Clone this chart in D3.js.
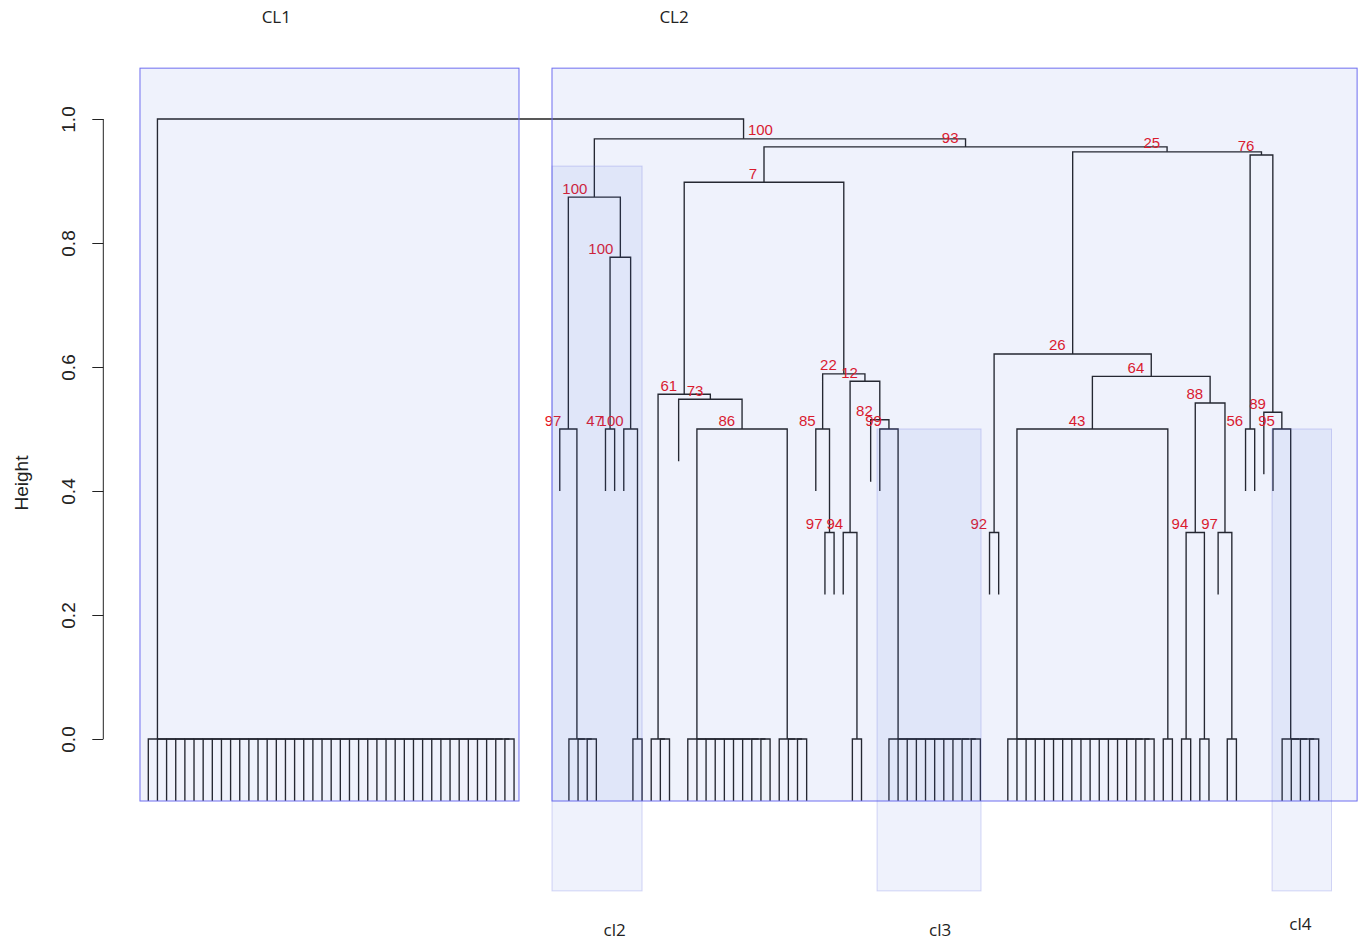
<!DOCTYPE html>
<html>
<head>
<meta charset="utf-8">
<script src="https://cdn.jsdelivr.net/npm/d3@7"></script>
<style>
  body { margin: 0; background: #fff; }
  svg { display: block; }
</style>
</head>
<body>
<svg id="dend" width="1359" height="940"></svg>
<script>
// ---- data ----
// leaf "L" hangs below its merge; {rake: k} = k leaves joined at height 0
const hang = 0.1;
const gapSlots = 4;          // empty leaf slots between CL1 and CL2
const rootJoinSlot = 65.1;   // where the root link drops onto CL2

const cl2Tree = { h: 0.874, bs: 100, kids: [
  { h: 0.5, bs: 97, kids: ["L", { rake: 4 }] },
  { h: 0.777, bs: 100, kids: [
    { h: 0.5, bs: 47, kids: ["L", "L"] },
    { h: 0.5, bs: 100, kids: ["L", { rake: 2 }] }
  ]}
]};

const node7Tree = { h: 0.898, bs: 7, kids: [
  { h: 0.556, bs: 61, kids: [{ rake: 3 },
    { h: 0.548, bs: 73, kids: ["L",
      { h: 0.5, bs: 86, kids: [{ rake: 10 }, { rake: 4 }] }
    ]}
  ]},
  { h: 0.589, bs: 22, kids: [
    { h: 0.5, bs: 85, kids: ["L", { h: 0.333, bs: 97, kids: ["L", "L"] }] },
    { h: 0.577, bs: 12, kids: [
      { h: 0.333, bs: 94, kids: ["L", { rake: 2 }] },
      { h: 0.515, bs: 82, kids: ["L",
        { h: 0.5, bs: 99, kids: ["L", { rake: 11 }] }
      ]}
    ]}
  ]}
]};

const node26Tree = { h: 0.621, bs: 26, kids: [
  { h: 0.333, bs: 92, kids: ["L", "L"] },
  { h: 0.585, bs: 64, kids: [
    { h: 0.5, bs: 43, kids: [{ rake: 17 }, { rake: 2 }] },
    { h: 0.542, bs: 88, kids: [
      { h: 0.333, bs: 94, kids: [{ rake: 2 }, { rake: 2 }] },
      { h: 0.333, bs: 97, kids: ["L", { rake: 2 }] }
    ]}
  ]}
]};

const node76Tree = { h: 0.942, bs: 76, kids: [
  { h: 0.5, bs: 56, kids: ["L", "L"] },
  { h: 0.527, bs: 89, kids: ["L",
    { h: 0.5, bs: 95, kids: ["L", { rake: 5 }] }
  ]}
]};

const treeRoot = { h: 1.0, kids: [
  { rake: 41 },
  { h: 0.968, bs: 100, kids: [
    cl2Tree,
    { h: 0.955, bs: 93, kids: [
      node7Tree,
      { h: 0.947, bs: 25, kids: [node26Tree, node76Tree] }
    ]}
  ]}
]};

// cluster boxes, in leaf slots and heights
const boxNames   = ["CL1", "CL2", "cl2", "cl3", "cl4"];
const boxFrom    = [-0.91, 44.15, 44.15, 79.7, 122.9];
const boxTo      = [40.54, 132.2, 54.0, 91.07, 129.4];
const boxTop     = [1.082, 1.082, 0.924, 0.5, 0.5];
const boxBottom  = [-0.1, -0.1, -0.245, -0.245, -0.245];
const boxLabelAt = [14, 57.5, 51, 86.6, 126];
const boxLabelH  = [1.165, 1.165, -0.308, -0.308, -0.298];

const yTicks = [0, 0.2, 0.4, 0.6, 0.8, 1.0];

// ---- layout ----
let svg = d3.select('#dend');

let xScale = d3.scaleLinear().domain([0, 128]).range([148.3, 1318.7]);
let yScale = d3.scaleLinear().domain([0, 1]).range([739, 119]);

// rakes become right-chained merges at height 0, like hclust ties
function expand(n) {
    if (n === "L") return "L";
    if (n.rake) {
        if (n.rake === 1) return "L";
        return { h: 0, kids: ["L", expand({ rake: n.rake - 1 })] };
    }
    return { h: n.h, bs: n.bs, kids: n.kids.map(expand) };
}

let tree = expand(treeRoot);
let slot = 0;
let segments = [], labels = [];

function place(n, parentH) {
    if (n === "L") return { x: slot++, y: parentH - hang };
    let left = place(n.kids[0], n.h);
    if (n === tree) slot += gapSlots;
    let right = place(n.kids[1], n.h);
    let xr = (n === tree) ? rootJoinSlot : right.x;
    segments.push([[left.x, left.y], [left.x, n.h], [xr, n.h], [xr, right.y]]);
    let cx = (left.x + right.x) / 2;
    if (n.bs != null) labels.push({ x: cx, h: n.h, text: n.bs });
    return { x: cx, y: n.h };
}
place(tree, 1);

// ---- axis ----
let yAxis = svg.append('g')
    .attr('transform', 'translate(103.3,0)')
    .call(d3.axisLeft(yScale).tickValues(yTicks).tickSize(11).tickFormat(d3.format('.1f')));

yAxis.select('.domain').attr('d', 'M0,' + yScale(0) + 'V' + yScale(1)).attr('stroke', '#222');
yAxis.selectAll('.tick line').attr('stroke', '#222');
yAxis.selectAll('.tick text')
    .attr('x', 0)
    .attr('y', -28)
    .attr('dy', null)
    .attr('transform', 'rotate(-90)')
    .style('text-anchor', 'middle')
    .style('font-family', '"Liberation Sans", Arial, sans-serif')
    .style('font-size', '19px')
    .attr('fill', '#222');

svg.append('text')
    .attr('transform', 'translate(28,483) rotate(-90)')
    .style('text-anchor', 'middle')
    .style('font-family', '"Liberation Sans", Arial, sans-serif')
    .style('font-size', '19px')
    .attr('fill', '#222')
    .text('Height');

// ---- dendrogram ----
let line = d3.line()
    .x(d => xScale(d[0]))
    .y(d => yScale(d[1]));

svg.append('g')
    .selectAll('path')
    .data(segments)
    .join('path')
    .attr('d', line)
    .attr('fill', 'none')
    .attr('stroke', '#222')
    .attr('stroke-width', 1.35);

svg.append('g')
    .selectAll('text')
    .data(labels)
    .join('text')
    .attr('x', d => xScale(d.x) - 7)
    .attr('y', d => yScale(d.h) - 3.5)
    .style('text-anchor', 'end')
    .style('font-family', '"Liberation Sans", Arial, sans-serif')
    .style('font-size', '15px')
    .attr('fill', '#e8141c')
    .text(d => d.text);

// ---- cluster boxes ----
let boxes = boxNames.map((name, i) => ({
    name: name, from: boxFrom[i], to: boxTo[i], top: boxTop[i],
    bottom: boxBottom[i], at: boxLabelAt[i], lh: boxLabelH[i], big: i < 2
}));

svg.append('g')
    .selectAll('rect')
    .data(boxes)
    .join('rect')
    .attr('x', d => xScale(d.from))
    .attr('y', d => yScale(d.top))
    .attr('width', d => xScale(d.to) - xScale(d.from))
    .attr('height', d => yScale(d.bottom) - yScale(d.top))
    .attr('fill', 'rgba(65,105,225,0.085)')
    .attr('stroke', d => d.big ? '#6e6ef0' : 'rgba(90,100,225,0.25)')
    .attr('stroke-width', 1);

svg.append('g')
    .selectAll('text')
    .data(boxes)
    .join('text')
    .attr('x', d => xScale(d.at))
    .attr('y', d => yScale(d.lh))
    .attr('dy', '0.35em')
    .style('text-anchor', 'middle')
    .style('font-family', '"Open Sans", "Noto Sans", sans-serif')
    .style('font-size', '17px')
    .attr('fill', '#222')
    .text(d => d.name);
</script>
</body>
</html>
